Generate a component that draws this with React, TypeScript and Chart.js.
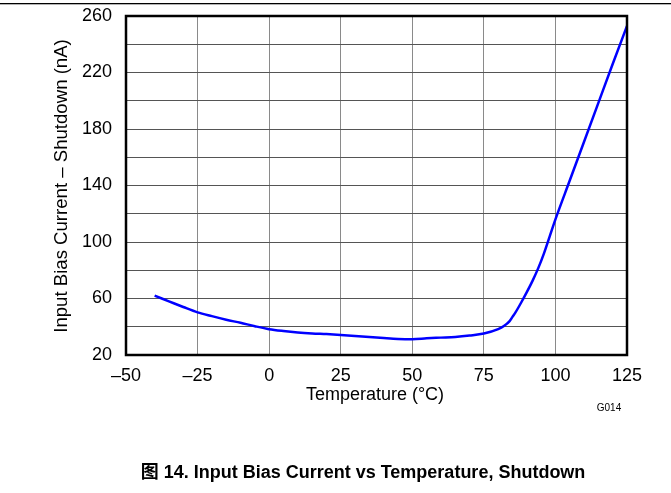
import React, { useEffect, useRef } from "react";
import { Chart, registerables } from "chart.js";

Chart.register(...registerables);

const temperatures = [
  -40, -35, -30, -25, -20, -15, -10, -5, 0, 5, 10, 15, 20, 25, 30, 35, 40, 45, 50, 55, 60, 65, 70, 75,
  80, 82, 84, 85, 86, 88, 90, 92, 94, 96, 98, 100, 105, 110, 115, 120, 125,
];
const biasCurrent = [
  62, 58, 54, 50.2, 47.5, 45, 42.8, 40.4, 38.3, 37, 36, 35.3, 34.8, 34.2, 33.5, 32.7, 32, 31.4, 31.2,
  31.8, 32.3, 32.8, 33.8, 35.2, 38.3, 40.5, 44, 47, 50, 57, 64.5, 72.5, 81.5, 92, 104, 116, 143.5, 171,
  198.5, 226, 253,
];
const xTicks = [-50, -25, 0, 25, 50, 75, 100, 125];
const yTickLabels = [20, 60, 100, 140, 180, 220, 260];

const xTitle = "Temperature (°C)";
const yTitle = "Input Bias Current – Shutdown (nA)";
const figureId = "G014";
const caption = "图 14. Input Bias Current vs Temperature, Shutdown";

const FONT = "'Liberation Sans', Arial, 'Noto Sans CJK SC', sans-serif";

const decorPlugin = {
  id: "decor",
  afterDraw(chart: any) {
    const { ctx, chartArea } = chart;
    const { left, right, top, bottom } = chartArea;
    ctx.save();
    // top rule
    ctx.fillStyle = "#000";
    ctx.fillRect(0, 3, 671, 1.3);
    // plot frame
    ctx.strokeStyle = "#000";
    ctx.lineWidth = 2.5;
    ctx.strokeRect(left, top, right - left, bottom - top);
    // titles
    ctx.fillStyle = "#000";
    ctx.textAlign = "center";
    ctx.textBaseline = "middle";
    ctx.font = `18px ${FONT}`;
    ctx.fillText(xTitle, 375, 395);
    ctx.save();
    ctx.translate(62, 186);
    ctx.rotate(-Math.PI / 2);
    ctx.font = `18.6px ${FONT}`;
    ctx.fillText(yTitle, 0, 0);
    ctx.restore();
    ctx.font = `10px ${FONT}`;
    ctx.fillText(figureId, 609, 408);
    ctx.font = `bold 18px ${FONT}`;
    ctx.fillText(caption, 363, 473);
    ctx.restore();
  },
};

export default function App() {
  const ref = useRef<HTMLCanvasElement | null>(null);
  useEffect(() => {
    if (!ref.current) return;
    const chart = new Chart(ref.current, {
      type: "line",
      data: {
        datasets: [
          {
            data: temperatures.map((t, i) => ({ x: t, y: biasCurrent[i] })),
            borderColor: "#0000ff",
            borderWidth: 2.5,
            pointRadius: 0,
            cubicInterpolationMode: "monotone",
            fill: false,
          },
        ],
      },
      options: {
        animation: false,
        responsive: false,
        devicePixelRatio: 1,
        layout: { padding: { left: 0, top: 16, right: 44, bottom: 0 } },
        plugins: { legend: { display: false }, tooltip: { enabled: false }, title: { display: false } },
        scales: {
          x: {
            type: "linear",
            min: -50,
            max: 125,
            afterFit: (s: any) => {
              s.height = 138;
              s.paddingLeft = 0;
              s.paddingRight = 0;
            },
            afterBuildTicks: (s: any) => {
              s.ticks = xTicks.map((v) => ({ value: v }));
            },
            ticks: {
              autoSkip: false,
              maxRotation: 0,
              padding: 10,
              color: "#000",
              font: { family: FONT, size: 18 },
              callback: (v: any) => (v < 0 ? "–" + Math.abs(v) : String(v)),
            },
            grid: { color: "#8a8a8a", lineWidth: 1, drawTicks: false },
            border: { display: false },
          },
          y: {
            type: "linear",
            min: 20,
            max: 260,
            afterFit: (s: any) => {
              s.width = 126;
              s.paddingTop = 0;
              s.paddingBottom = 0;
            },
            ticks: {
              stepSize: 20,
              autoSkip: false,
              padding: 14,
              color: "#000",
              font: { family: FONT, size: 18 },
              callback: (v: any) => (yTickLabels.includes(Number(v)) ? String(v) : ""),
            },
            grid: { color: "#555", lineWidth: 1, drawTicks: false },
            border: { display: false },
          },
        },
      },
      plugins: [decorPlugin],
    });
    return () => chart.destroy();
  }, []);
  return (
    <div style={{ position: "absolute", left: 0, top: 0, width: 671, height: 493, background: "#fff" }}>
      <canvas ref={ref} width={671} height={493} style={{ width: 671, height: 493, display: "block" }} />
    </div>
  );
}
